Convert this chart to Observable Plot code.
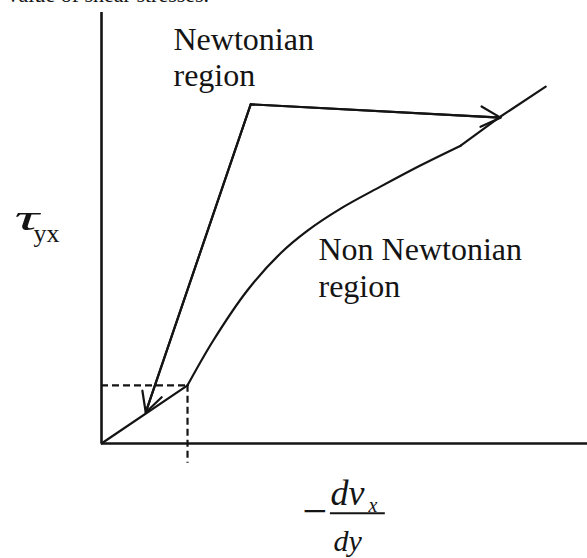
<!DOCTYPE html>
<html>
<head>
<meta charset="utf-8">
<script src="https://cdn.jsdelivr.net/npm/d3@7"></script>
<script src="https://cdn.jsdelivr.net/npm/@observablehq/plot@0.6"></script>
<style>
  body { margin: 0; background: #fff; }
  svg { display: block; }
</style>
</head>
<body>
<div id="chart"></div>
<script>
// Flow curve: shear stress against shear rate (arbitrary units, 0–100)
const shearRate   = [0, 17.7, 23.0, 30.0, 36.8, 42.4, 49.2, 57.4, 65.6, 73.9, 81.5, 91.4];
const shearStress = [0, 13.5, 23.9, 35.5, 44.1, 49.4, 54.5, 59.6, 64.5, 69.1, 75.4, 82.8];

// Index where the straight Newtonian part ends, and where the upper straight part starts
const newtonianEnd = 1;
const upperStart = 9;

// Callout: both arrows leave from one elbow and land on the curve
const calloutElbow   = {x: 30.7, y: 78.7};
const calloutTargets = [{x: 9.1, y: 7.2}, {x: 82.1, y: 75.6}];

const points = shearRate.map((x, i) => ({x, y: shearStress[i]}));
const newtonianPart = points.slice(0, newtonianEnd + 1);
const curvedPart = points.slice(newtonianEnd, upperStart + 1);
const upperPart = points.slice(upperStart);
const limit = points[newtonianEnd];

const ink = "#141414";
const serif = "'Liberation Serif', 'Times New Roman', serif";

const chart = Plot.plot({
  width: 587,
  height: 558,
  margin: 0,
  x: {domain: [0, 100], range: [101, 587], axis: null},
  y: {domain: [0, 100], range: [443, 12], axis: null},
  style: {fontFamily: serif, color: ink, background: "#fff"},
  marks: [
    // axes
    Plot.ruleY([0], {x1: 0, x2: 100, stroke: ink, strokeWidth: 2.6}),
    Plot.ruleX([0], {y1: 0, y2: 100, stroke: ink, strokeWidth: 2.6}),
    // dashed guides at the end of the Newtonian range
    Plot.ruleY([limit], {y: "y", x1: 0, x2: "x", stroke: ink, strokeWidth: 2.2, strokeDasharray: "7,4"}),
    Plot.ruleX([limit], {x: "x", y1: "y", y2: -4.6, stroke: ink, strokeWidth: 2.2, strokeDasharray: "7,4"}),
    // flow curve
    Plot.line(newtonianPart, {x: "x", y: "y", stroke: ink, strokeWidth: 2.2}),
    Plot.line(curvedPart, {x: "x", y: "y", stroke: ink, strokeWidth: 2.2, curve: "catmull-rom"}),
    Plot.line(upperPart, {x: "x", y: "y", stroke: ink, strokeWidth: 2.2}),
    // callout arrows
    Plot.line([calloutTargets[0], calloutElbow, calloutTargets[1]], {x: "x", y: "y", stroke: ink, strokeWidth: 2.2}),
    Plot.arrow(calloutTargets, {
      x1: () => calloutElbow.x, y1: () => calloutElbow.y,
      x2: "x", y2: "y",
      stroke: ink, strokeWidth: 2.2, headLength: 15, headAngle: 55
    }),
    // annotations (first-line baselines set through dy)
    Plot.text(["value of shear stresses."], {frameAnchor: "top-left", dx: 7, dy: -14.6, textAnchor: "start", fontSize: 22, fill: ink}),
    Plot.text(["Newtonian\nregion"], {frameAnchor: "top-left", dx: 173, dy: 24.4, textAnchor: "start", lineAnchor: "top", lineHeight: 1.125, fontSize: 32, fill: ink}),
    Plot.text(["Non Newtonian\nregion"], {frameAnchor: "top-left", dx: 318, dy: 233.7, textAnchor: "start", lineAnchor: "top", lineHeight: 1.156, fontSize: 32, fill: ink}),
    // y label: tau with subscript yx
    Plot.text(["τ"], {frameAnchor: "top-left", dx: 14, dy: 204.4, textAnchor: "start", fontSize: 36, fontStyle: "italic", fill: ink, className: "tau-label"}),
    Plot.text(["yx"], {frameAnchor: "top-left", dx: 33, dy: 223.5, textAnchor: "start", fontSize: 26, fill: ink}),
    // x label: −dv_x/dy
    Plot.text(["−"], {frameAnchor: "top-left", dx: 302, dy: 493.8, textAnchor: "start", fontSize: 44, fill: ink}),
    Plot.text(["dv"], {frameAnchor: "top-left", dx: 330, dy: 479.4, textAnchor: "start", fontSize: 36, fontStyle: "italic", fill: ink}),
    Plot.text(["x"], {frameAnchor: "top-left", dx: 368, dy: 497, textAnchor: "start", fontSize: 20, fontStyle: "italic", fill: ink}),
    Plot.ruleY([-16.2], {x1: 47.1, x2: 58.4, stroke: ink, strokeWidth: 2}),
    Plot.text(["dy"], {frameAnchor: "top-left", dx: 333, dy: 528.7, textAnchor: "start", fontSize: 30, fontStyle: "italic", fill: ink})
  ]
});

// the tau glyph is drawn wide, as in a symbol font
chart.querySelectorAll(".tau-label text").forEach((t) => {
  t.setAttribute("transform", (t.getAttribute("transform") || "") + " scale(1.9,1)");
});

document.getElementById("chart").append(chart);
</script>
</body>
</html>
